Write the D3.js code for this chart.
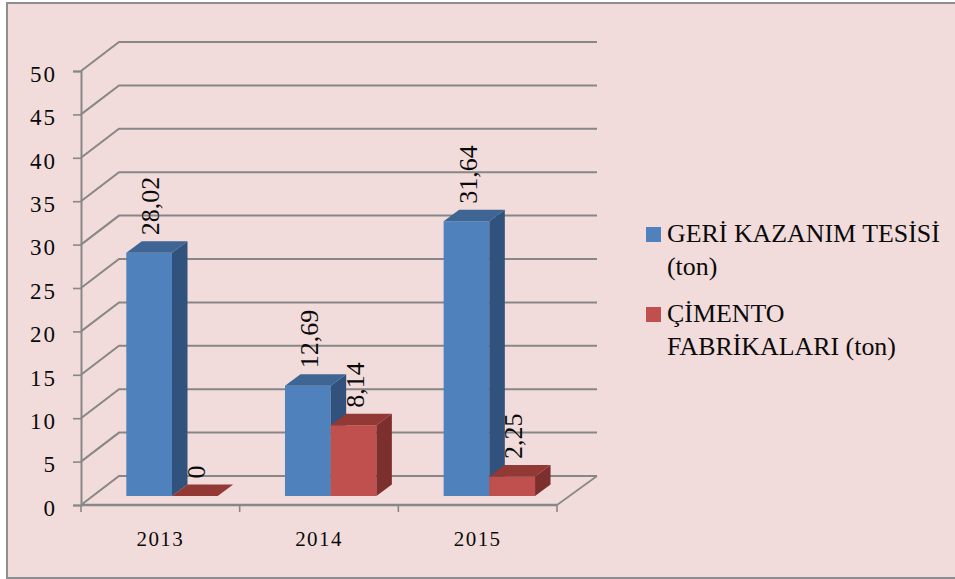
<!DOCTYPE html>
<html>
<head>
<meta charset="utf-8">
<script src="https://cdn.jsdelivr.net/npm/d3@7/dist/d3.min.js"></script>
<style>
html,body{margin:0;padding:0;background:#fff;}
svg{display:block;}
text{font-family:"Liberation Serif",serif;fill:#0a0a0a;}
</style>
</head>
<body>
<svg id="c" width="955" height="579"></svg>
<script>
const years = ["2013", "2014", "2015"];
const seriesNames = ["GERİ KAZANIM TESİSİ (ton)", "ÇİMENTO FABRİKALARI (ton)"];
const geriKazanim = [28.02, 12.69, 31.64];
const cimento = [0, 8.14, 2.25];
const yTicks = [0, 5, 10, 15, 20, 25, 30, 35, 40, 45, 50];
const legendLines = [["GERİ KAZANIM TESİSİ", "(ton)"], ["ÇİMENTO", "FABRİKALARI (ton)"]];

const faces = [
  {front:"#4f81bd", top:"#3e6594", side:"#30527c"},
  {front:"#c0504d", top:"#923936", side:"#7d2f2e"}
];
const seriesValues = [geriKazanim, cimento];
const fmt = v => String(v).replace(".", ",");

const svg = d3.select("#c");
svg.append("rect").attr("x",7).attr("y",3).attr("width",960).attr("height",575)
  .attr("fill","#f2dcdb").attr("stroke","#8e8e8e").attr("stroke-width",2);

const x0 = d3.scaleBand().domain(years).range([81,557]);
const x1 = d3.scaleBand().domain(seriesNames).range([45.3,136.7]);
const y = d3.scaleLinear().domain([0,50]).range([505,71]);
const wallDx = 38, wallDy = 29, barDx = 15.5, barDy = 11.5, floorDy = 9;
const gridCol = "#878787";

const g = svg.append("g");
// wall grid
yTicks.forEach(t => {
  g.append("path")
    .attr("d", d3.line()([[x0.range()[0],y(t)],[x0.range()[0]+wallDx,y(t)-wallDy],[x0.range()[1]+wallDx+2,y(t)-wallDy]]))
    .attr("fill","none").attr("stroke",gridCol).attr("stroke-width",2);
});
// floor right edge
g.append("path")
  .attr("d", d3.line()([[x0.range()[1],y(0)],[x0.range()[1]+wallDx+2,y(0)-wallDy]]))
  .attr("fill","none").attr("stroke",gridCol).attr("stroke-width",1.6);

// axes
const yAxis = g.append("g").attr("transform",`translate(${x0.range()[0]},0)`)
  .call(d3.axisLeft(y).tickValues(yTicks).tickSize(8).tickPadding(16).tickFormat(d3.format("d")));
yAxis.selectAll("path.domain").attr("stroke",gridCol).attr("stroke-width",2);
yAxis.selectAll("line").attr("stroke",gridCol).attr("stroke-width",1.6);
yAxis.selectAll("text").attr("font-size",23).attr("letter-spacing",2).attr("dy","0.45em")
  .style("font-family",'"Liberation Serif",serif');

const xAxis = g.append("g").attr("transform",`translate(0,${y(0)})`)
  .call(d3.axisBottom(x0).tickSize(0).tickPadding(26));
xAxis.selectAll("path.domain").attr("stroke",gridCol).attr("stroke-width",2.4).attr("d",`M${x0.range()[0]},0H${x0.range()[1]}`);
xAxis.selectAll("text").attr("font-size",21).attr("letter-spacing",1.4)
  .style("font-family",'"Liberation Serif",serif');
const edges = [x0.range()[0]].concat(years.map(d => x0(d)+x0.bandwidth()));
g.selectAll("line.xt").data(edges).join("line").attr("class","xt")
  .attr("x1",d=>d).attr("x2",d=>d).attr("y1",y(0)).attr("y2",y(0)+7)
  .attr("stroke",gridCol).attr("stroke-width",1.6);

// bars
const poly = pts => d3.line()(pts)+"Z";
years.forEach((yr,i) => {
  seriesNames.forEach((s,j) => {
    const v = seriesValues[j][i];
    const xl = x0(yr)+x1(s), xr = xl+x1.bandwidth();
    const yb = y(0)-floorDy, yt = y(v)-floorDy;
    const f = faces[j];
    if (v>0) {
      g.append("path").attr("d",poly([[xl,yb],[xr,yb],[xr,yt],[xl,yt]])).attr("fill",f.front);
      g.append("path").attr("d",poly([[xr,yb],[xr+barDx,yb-barDy],[xr+barDx,yt-barDy],[xr,yt]])).attr("fill",f.side);
    }
    g.append("path").attr("d",poly([[xl,yt],[xr,yt],[xr+barDx,yt-barDy],[xl+barDx,yt-barDy]])).attr("fill",f.top);
  });
});
// data labels
years.forEach((yr,i) => {
  seriesNames.forEach((s,j) => {
    const v = seriesValues[j][i];
    const xc = x0(yr)+x1(s)+x1.bandwidth()/2+barDx/2-2;
    const yl = y(v)-floorDy-barDy-6;
    g.append("text").attr("transform",`translate(${xc+4.5},${yl}) rotate(-90)`)
      .attr("font-size",26).text(fmt(v));
  });
});

// legend
const legY = [234.5, 314.5];
const legColor = d3.scaleOrdinal().domain(seriesNames).range(faces.map(f=>f.front));
seriesNames.forEach((s,j) => {
  g.append("rect").attr("x",646).attr("y",legY[j]-7.5).attr("width",15).attr("height",15).attr("fill",legColor(s));
  legendLines[j].forEach((ln,k) => {
    g.append("text").attr("x",667).attr("y",legY[j]+7.5+k*33).attr("font-size",25.9).text(ln);
  });
});
</script>
</body>
</html>
